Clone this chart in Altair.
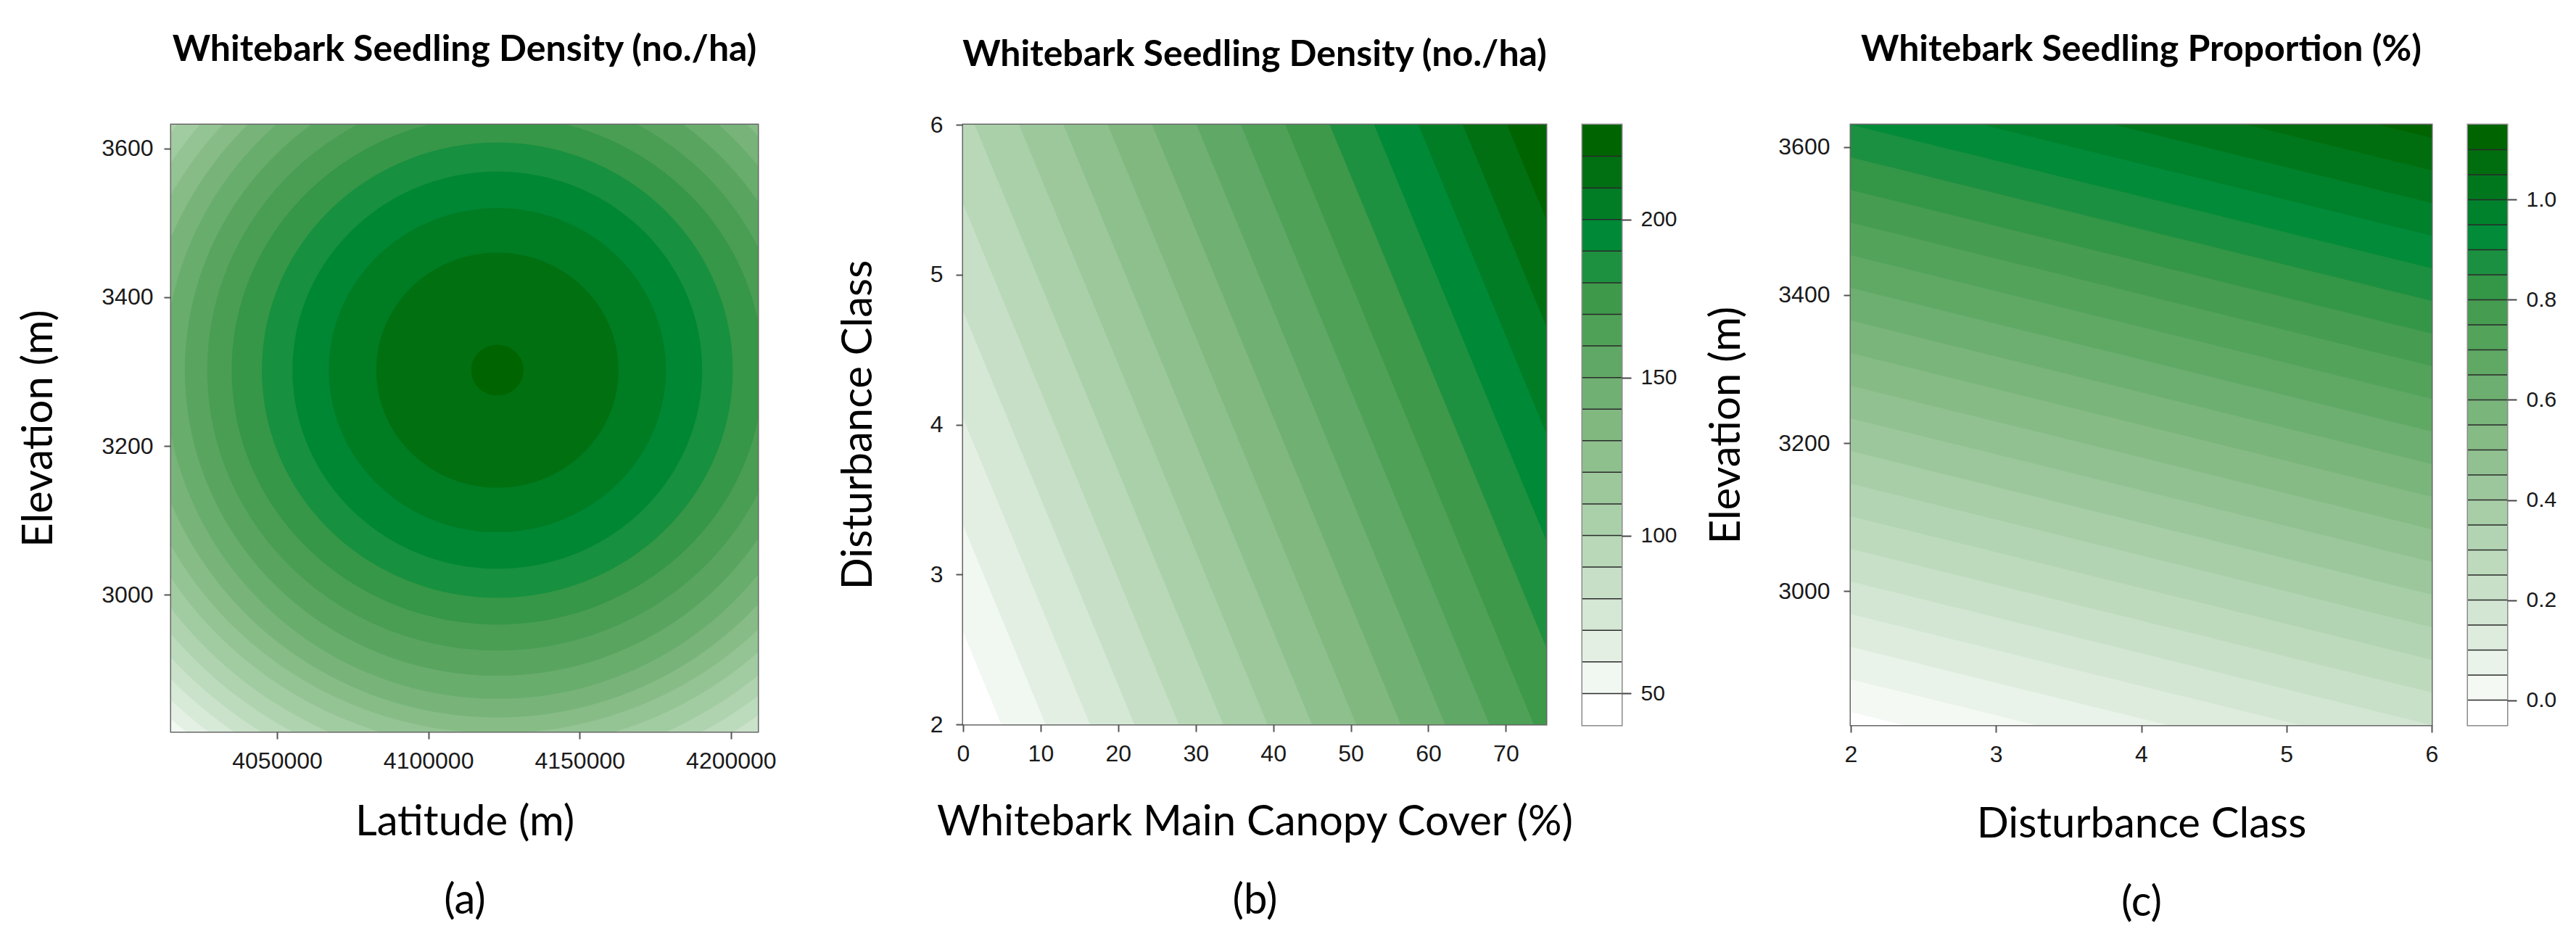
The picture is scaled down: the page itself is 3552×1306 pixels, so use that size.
import altair as alt
import pandas as pd
import numpy as np

# ---------------- values ----------------
# (a) density over latitude / elevation: concentric contour rings around a peak
A_LAT_RANGE = [4015000, 4208900]
A_ELEV_RANGE = [2816, 3632]
A_PEAK_LAT = 4122800
A_PEAK_ELEV = 3302
# half-width (latitude, m) and half-height (elevation, m) of each contour ring, innermost first
A_RING_LAT_HALF = [8600, 40000, 55700, 67700, 77800, 87800, 95900, 103300, 110000,
                   116700, 123200, 128900, 134700, 140200, 145500, 150500, 155500,
                   160300, 164800]
A_RING_ELEV_HALF = [34, 158, 218, 267, 306, 342, 377, 411, 442, 467, 488, 510, 534,
                    555, 576, 596, 616, 634, 653]
A_LAT_TICKS = [4050000, 4100000, 4150000, 4200000]
A_ELEV_TICKS = [3000, 3200, 3400, 3600]

# (b) density over canopy cover / disturbance class
B_COVER_RANGE = [0, 75.2]
B_DIST_RANGE = [2, 6]
# surface value at corners: (cover min, dist 2), (cover max, dist 2), (cover min, dist 6), (cover max, dist 6)
B_CORNER_VALUES = [41.4, 172.8, 97.4, 228.8]
B_LEVELS = [40, 50, 60, 70, 80, 90, 100, 110, 120, 130, 140, 150, 160, 170, 180,
            190, 200, 210, 220, 230]
B_COVER_TICKS = [0, 10, 20, 30, 40, 50, 60, 70]
B_DIST_TICKS = [2, 3, 4, 5, 6]
B_BAR_TICKS = [50, 100, 150, 200]

# (c) proportion over disturbance class / elevation
C_DIST_RANGE = [2, 6]
C_ELEV_RANGE = [2819, 3630]
# (dist 2, elev min), (dist 6, elev min), (dist 2, elev max), (dist 6, elev max)
C_CORNER_VALUES = [-0.02, 0.20, 0.90, 1.12]
C_LEVELS = [-0.05, 0.0, 0.05, 0.10, 0.15, 0.20, 0.25, 0.30, 0.35, 0.40, 0.45, 0.50,
            0.55, 0.60, 0.65, 0.70, 0.75, 0.80, 0.85, 0.90, 0.95, 1.00, 1.05, 1.10, 1.15]
C_DIST_TICKS = [2, 3, 4, 5, 6]
C_ELEV_TICKS = [3000, 3200, 3400, 3600]
C_BAR_TICKS = [0.0, 0.2, 0.4, 0.6, 0.8, 1.0]

TITLE_AB = "Whitebark Seedling Density (no./ha)"
TITLE_C = "Whitebark Seedling Proportion (%)"

# ---------------- colour ramp (white -> dark green) ----------------
RAMP_STOPS = [0.0, 0.5, 0.72, 0.83, 1.0]
RAMP_COLORS = ["#ffffff", "#80b880", "#3f994a", "#008a38", "#006400"]


def _rgb(h):
    return [int(h[i:i + 2], 16) for i in (1, 3, 5)]


def ramp(n):
    out = []
    for i in range(n):
        t = i / (n - 1)
        for j in range(len(RAMP_STOPS) - 1):
            if RAMP_STOPS[j] <= t <= RAMP_STOPS[j + 1]:
                f = (t - RAMP_STOPS[j]) / (RAMP_STOPS[j + 1] - RAMP_STOPS[j])
                c0, c1 = _rgb(RAMP_COLORS[j]), _rgb(RAMP_COLORS[j + 1])
                c = [round(c0[k] + f * (c1[k] - c0[k])) for k in range(3)]
                out.append("#%02x%02x%02x" % tuple(c))
                break
    return out


# ---------------- geometry tables built from the values ----------------
def plane_band_table(xr, yr, corners, levels):
    x0, x1 = xr
    y0, y1 = yr
    v00, v10, v01, v11 = corners
    rows = []
    for k, L in enumerate(levels[:-1]):
        xs = set(np.linspace(x0, x1, 41).tolist())
        for va, vb in ((v00, v10), (v01, v11)):
            if vb != va:
                xb = x0 + (L - va) / (vb - va) * (x1 - x0)
                if x0 < xb < x1:
                    xs.add(xb)
        for x in sorted(xs):
            f = (x - x0) / (x1 - x0)
            a = v00 + f * (v10 - v00)
            b = v01 + f * (v11 - v01)
            s = (L - a) / (b - a)
            s = min(max(s, 0.0), 1.0)
            rows.append({"band": k, "x": x, "y": y0 + s * (y1 - y0), "y2": y1})
    return pd.DataFrame(rows)


def ring_table():
    rows = []
    for x in A_LAT_RANGE:
        rows.append({"band": 0, "x": x, "y": A_ELEV_RANGE[0], "y2": A_ELEV_RANGE[1]})
    n = len(A_RING_LAT_HALF)
    for j in range(n):
        ri = n - 1 - j
        a = A_RING_LAT_HALF[ri]
        b = A_RING_ELEV_HALF[ri]
        for t in np.linspace(0, np.pi, 121):
            rows.append({"band": j + 1,
                         "x": A_PEAK_LAT + a * np.cos(t),
                         "y": A_PEAK_ELEV - b * np.sin(t),
                         "y2": A_PEAK_ELEV + b * np.sin(t)})
    return pd.DataFrame(rows)


def title_params(text, offset):
    return alt.TitleParams(text=text, font="Lato", fontSize=50, fontWeight="bold",
                           anchor="middle", baseline="alphabetic", offset=offset,
                           frame="group", color="black")


def contour_panel(df, nbands, xenc, yenc, title, width, height):
    colors = ramp(nbands)
    layers = []
    for k in range(nbands):
        layers.append(
            alt.Chart(df).transform_filter(alt.datum.band == k)
            .mark_area(color=colors[k], clip=True, strokeWidth=0)
            .encode(x=xenc, y=yenc, y2="y2:Q")
        )
    return alt.layer(*layers).properties(width=width, height=height, title=title)


def colorbar(levels, ticks, fmt, height, key):
    n = len(levels) - 1
    colors = ramp(n)
    df = pd.DataFrame({key + "_lo": levels[:-1], key + "_hi": levels[1:],
                       key + "_col": colors})
    yscale = alt.Scale(domain=[levels[0], levels[-1]], nice=False, zero=False)
    rects = alt.Chart(df).mark_rect().encode(
        y=alt.Y(key + "_lo:Q", scale=yscale,
                axis=alt.Axis(orient="right", values=ticks, format=fmt, title=None,
                              labelFontSize=30, tickSize=13, labelPadding=13,
                              tickColor="#444")),
        y2=key + "_hi:Q",
        color=alt.Color(key + "_col:N", scale=None, legend=None),
    )
    seps = alt.Chart(pd.DataFrame({key + "_lev": levels[1:-1]})).mark_rule(
        color="#2a2a2a", strokeWidth=1.5).encode(y=alt.Y(key + "_lev:Q", scale=yscale))
    return alt.layer(rects, seps).properties(
        width=54, height=height,
        view=alt.ViewBackground(stroke="#8a8a8a", strokeWidth=3))


def spacer(w):
    return alt.Chart(pd.DataFrame({"s": [0]})).mark_point(opacity=0).encode(
        x=alt.value(0), y=alt.value(0)).properties(
        width=w, height=10, view=alt.ViewBackground(strokeOpacity=0))


# ---------------- panel (a) ----------------
a_df = ring_table()
a_x = alt.X("x:Q", scale=alt.Scale(domain=A_LAT_RANGE, nice=False, zero=False),
            axis=alt.Axis(values=A_LAT_TICKS, format="d", title=["Latitude (m)", "(a)"],
                          labelPadding=15, titlePadding=40))
a_y = alt.Y("y:Q", scale=alt.Scale(domain=A_ELEV_RANGE, nice=False, zero=False),
            axis=alt.Axis(values=A_ELEV_TICKS, format="d", title="Elevation (m)",
                          labelPadding=15, titlePadding=56))
panel_a = contour_panel(a_df, len(A_RING_LAT_HALF) + 1, a_x, a_y,
                        title_params(TITLE_AB, 38), 809, 837)

# ---------------- panel (b) ----------------
b_df = plane_band_table(B_COVER_RANGE, B_DIST_RANGE, B_CORNER_VALUES, B_LEVELS)
b_x = alt.X("x:Q", scale=alt.Scale(domain=B_COVER_RANGE, nice=False, zero=False),
            axis=alt.Axis(values=B_COVER_TICKS, format="d",
                          title=["Whitebark Main Canopy Cover (%)", "(b)"],
                          labelPadding=15, titlePadding=50))
b_y = alt.Y("y:Q", scale=alt.Scale(domain=B_DIST_RANGE, nice=False, zero=False),
            axis=alt.Axis(values=B_DIST_TICKS, format="d", title="Disturbance Class",
                          labelPadding=18, titlePadding=69))
panel_b = contour_panel(b_df, len(B_LEVELS) - 1, b_x, b_y,
                        title_params(TITLE_AB, 15), 804, 827)
bar_b = colorbar(B_LEVELS, B_BAR_TICKS, "d", 828, "bb")

# ---------------- panel (c) ----------------
c_df = plane_band_table(C_DIST_RANGE, C_ELEV_RANGE, C_CORNER_VALUES, C_LEVELS)
c_x = alt.X("x:Q", scale=alt.Scale(domain=C_DIST_RANGE, nice=False, zero=False),
            axis=alt.Axis(values=C_DIST_TICKS, format="d",
                          title=["Disturbance Class", "(c)"],
                          labelPadding=15, titlePadding=52))
c_y = alt.Y("y:Q", scale=alt.Scale(domain=C_ELEV_RANGE, nice=False, zero=False),
            axis=alt.Axis(values=C_ELEV_TICKS, format="d", title="Elevation (m)",
                          labelPadding=19, titlePadding=41))
panel_c = contour_panel(c_df, len(C_LEVELS) - 1, c_x, c_y,
                        title_params(TITLE_C, 38), 801, 828)
bar_c = colorbar(C_LEVELS, C_BAR_TICKS, ".1f", 828, "cb")

chart = alt.hconcat(
    panel_a, spacer(183), panel_b, bar_b, spacer(216), panel_c, bar_c,
    spacing=50, bounds="flush",
).properties(
    padding={"left": 16, "top": 34, "right": 5, "bottom": 5},
).configure_axis(
    labelFont="Liberation Sans", labelFontSize=32, labelColor="#1a1a1a",
    labelFlush=False, labelOverlap=False,
    tickColor="#555555", tickSize=10, tickWidth=2, domain=False, grid=False,
    titleFont="Lato", titleFontSize=58, titleFontWeight="normal", titleColor="black",
    titleLineHeight=108,
).configure_view(
    stroke="#666666", strokeWidth=3,
)

chart.save("out.html", embed_options={"renderer": "svg", "actions": False})
